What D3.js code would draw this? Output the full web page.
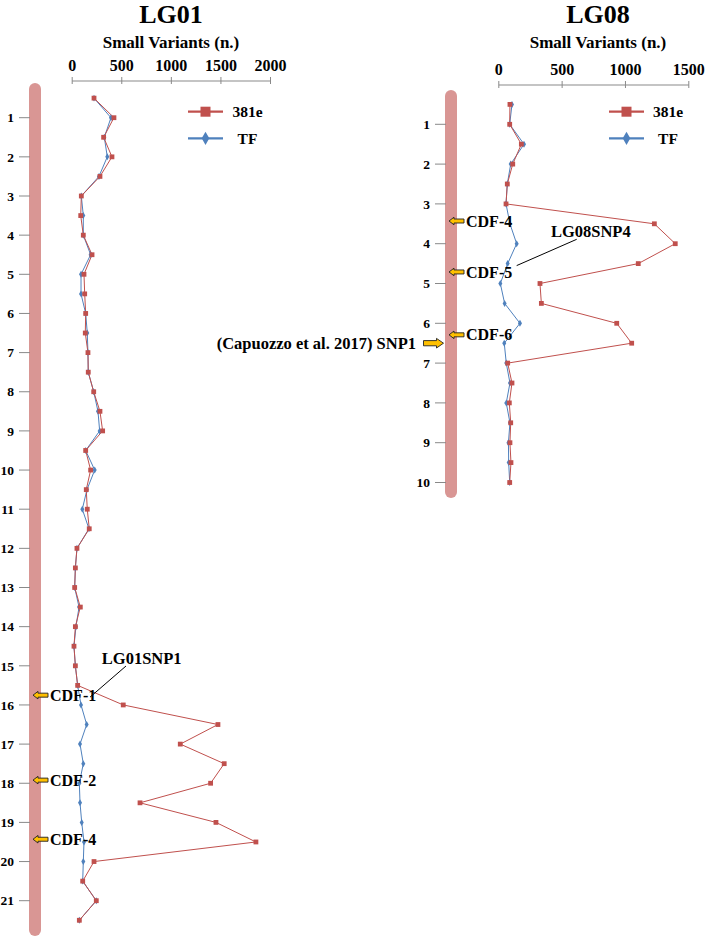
<!DOCTYPE html>
<html><head><meta charset="utf-8">
<script src="https://cdnjs.cloudflare.com/ajax/libs/d3/7.8.5/d3.min.js"></script>
<style>
html,body{margin:0;padding:0;background:#fff;}
svg text{font-family:"Liberation Serif","Times New Roman",serif;font-weight:bold;fill:#000;}
</style></head>
<body><svg id="c" width="708" height="938"></svg>
<script>
// ---- Data ----
const lg01Pos = [0.5,1,1.5,2,2.5,3,3.5,4,4.5,5,5.5,6,6.5,7,7.5,8,8.5,9,9.5,10,10.5,11,11.5,12,12.5,13,13.5,14,14.5,15,15.5,16,16.5,17,17.5,18,18.5,19,19.5,20,20.5,21,21.5];
const lg01_381e = [225,426,322,406,285,97,91,117,205,124,131,141,137,164,167,222,285,312,141,191,147,157,177,53,37,30,87,37,23,37,60,520,1475,1095,1538,1401,689,1455,1858,225,111,248,77];
const lg01_TF   = [225,396,329,359,275,97,117,117,191,94,94,141,157,164,167,222,265,282,141,232,154,107,174,53,37,30,74,43,23,37,60,94,151,84,117,77,84,101,124,117,111,248,77];
const lg01XTicks = [0,500,1000,1500,2000];
const lg01YTicks = [1,2,3,4,5,6,7,8,9,10,11,12,13,14,15,16,17,18,19,20,21];

const lg08Pos = [0.5,1,1.5,2,2.5,3,3.5,4,4.5,5,5.5,6,6.5,7,7.5,8,8.5,9,9.5,10];
const lg08_381e = [92,90,182,114,71,61,1232,1397,1105,329,340,935,1053,74,108,87,98,92,100,90];
const lg08_TF   = [108,90,203,98,71,61,92,145,74,16,50,171,47,63,92,63,92,80,82,90];
const lg08XTicks = [0,500,1000,1500];
const lg08YTicks = [1,2,3,4,5,6,7,8,9,10];

const lg01Markers = [{label:"CDF-1",pos:15.75},{label:"CDF-2",pos:17.92},{label:"CDF-4",pos:19.43}];
const lg08Markers = [{label:"CDF-4",pos:3.43},{label:"CDF-5",pos:4.71},{label:"CDF-6",pos:6.29}];

const seriesNames = ["381e","TF"];
const RED = "#C0504D", BLUE = "#4F81BD", BAR = "#D99694", AX = "#898989", ARROW = "#FFC000";

const svg = d3.select("#c");

function leftArrow(g, tipX, cy){
  const p = d3.path();
  p.moveTo(tipX, cy);
  p.lineTo(tipX+5, cy-3.8);
  p.lineTo(tipX+5, cy-2);
  p.lineTo(tipX+15, cy-2);
  p.lineTo(tipX+15, cy+2);
  p.lineTo(tipX+5, cy+2);
  p.lineTo(tipX+5, cy+3.8);
  p.closePath();
  g.append("path").attr("d", p.toString()).attr("fill", ARROW).attr("stroke","#222").attr("stroke-width",0.9);
}
function rightArrow(g, tipX, cy){
  const p = d3.path();
  p.moveTo(tipX, cy);
  p.lineTo(tipX-7, cy-4.8);
  p.lineTo(tipX-7, cy-2.6);
  p.lineTo(tipX-20, cy-2.6);
  p.lineTo(tipX-20, cy+2.6);
  p.lineTo(tipX-7, cy+2.6);
  p.lineTo(tipX-7, cy+4.8);
  p.closePath();
  g.append("path").attr("d", p.toString()).attr("fill", ARROW).attr("stroke","#222").attr("stroke-width",0.9);
}

function panel(cfg){
  const g = svg.append("g");
  const x = d3.scaleLinear().domain(cfg.xDomain).range(cfg.xRange);
  const y = d3.scaleLinear().domain(cfg.yDomain).range(cfg.yRange);

  g.append("text").attr("x", cfg.titleX).attr("y", 23).attr("text-anchor","middle")
    .style("font-size","26px").text(cfg.title);
  g.append("text").attr("x", cfg.titleX).attr("y", 48).attr("text-anchor","middle")
    .style("font-size","17px").text("Small Variants (n.)");

  // top axis
  const ax = d3.axisTop(x).tickValues(cfg.xTicks).tickFormat(d3.format("d")).tickSizeInner(4).tickSizeOuter(0).tickPadding(5);
  const axg = g.append("g").attr("transform",`translate(0,${cfg.axisY})`).call(ax);
  axg.select(".domain").attr("stroke",AX);
  axg.selectAll(".tick line").attr("stroke",AX).attr("y2",-3.5).attr("y1",3.5);
  axg.selectAll(".tick text").style("font-family",'"Liberation Serif","Times New Roman",serif')
     .style("font-weight","bold").style("font-size","16px").attr("fill","#000").attr("dy","-0.05em");

  // chromosome bar
  g.append("rect").attr("x", cfg.barX-6).attr("y", cfg.barTop).attr("width",12)
    .attr("height", cfg.barBottom-cfg.barTop).attr("rx",6).attr("ry",6).attr("fill",BAR);

  // y ticks
  const yt = g.append("g");
  cfg.yTicks.forEach(v=>{
    yt.append("line").attr("x1",cfg.barX-16).attr("x2",cfg.barX-5).attr("y1",y(v)).attr("y2",y(v)).attr("stroke",AX).attr("stroke-width",1);
    yt.append("text").attr("x",cfg.barX-21).attr("y",y(v)).attr("dy","0.35em").attr("text-anchor","end")
      .style("font-size","13.5px").text(v);
  });

  // lines
  const mk = (vals)=> cfg.pos.map((p,i)=>({p, v:vals[i]}));
  const line = d3.line().x(d=>x(d.v)).y(d=>y(d.p));
  const tf = mk(cfg.tf), r = mk(cfg.red);
  g.append("path").attr("d", line(tf)).attr("fill","none").attr("stroke",BLUE).attr("stroke-width",1);
  g.append("path").attr("d", line(r)).attr("fill","none").attr("stroke",RED).attr("stroke-width",1);
  const sym = d3.symbol().type(d3.symbolDiamond).size(14);
  g.selectAll(".tf").data(tf).enter().append("path")
    .attr("transform",d=>`translate(${x(d.v)},${y(d.p)})`).attr("d",sym()).attr("fill",BLUE);
  g.selectAll(".rs").data(r).enter().append("rect")
    .attr("x",d=>x(d.v)-2.4).attr("y",d=>y(d.p)-2.4).attr("width",4.8).attr("height",4.8).attr("fill",RED);

  // legend
  const lg = g.append("g");
  const lx = cfg.legendX;
  [[RED,"sq"],[BLUE,"dia"]].forEach((s,i)=>{
    const ly = cfg.legendY + i*26.6;
    lg.append("line").attr("x1",lx).attr("x2",lx+35).attr("y1",ly).attr("y2",ly).attr("stroke",s[0]).attr("stroke-width",2.2);
    if(s[1]==="sq") lg.append("rect").attr("x",lx+17.5-5).attr("y",ly-5).attr("width",10).attr("height",10).attr("fill",s[0]);
    else lg.append("path").attr("transform",`translate(${lx+17.5},${ly})`).attr("d",d3.symbol().type(d3.symbolDiamond).size(50)()).attr("fill",s[0]);
    lg.append("text").attr("x",cfg.legendTextX).attr("y",ly).attr("dy","0.35em").attr("text-anchor","middle")
      .style("font-size","15.5px").text(seriesNames[i]);
  });

  // CDF markers
  cfg.markers.forEach(m=>{
    leftArrow(g, cfg.barX-2, y(m.pos));
    g.append("text").attr("x", cfg.barX+15).attr("y", y(m.pos)).attr("dy","0.35em").style("font-size","16px").text(m.label);
  });
  return {g,x,y};
}

const p1 = panel({title:"LG01", titleX:171, xDomain:[0,2000], xRange:[71.7,270], yDomain:[1,21], yRange:[117.7,900.7],
  axisY:80.5, xTicks:lg01XTicks, yTicks:lg01YTicks, barX:35, barTop:83, barBottom:936,
  pos:lg01Pos, red:lg01_381e, tf:lg01_TF, legendX:188, legendY:111.7, legendTextX:247.5, markers:lg01Markers});

const p2 = panel({title:"LG08", titleX:598, xDomain:[0,1500], xRange:[498.3,688.3], yDomain:[1,10], yRange:[124.3,482.5],
  axisY:84.5, xTicks:lg08XTicks, yTicks:lg08YTicks, barX:451, barTop:90, barBottom:498,
  pos:lg08Pos, red:lg08_381e, tf:lg08_TF, legendX:609, legendY:111.7, legendTextX:668, markers:lg08Markers});

// SNP annotations
p1.g.append("line").attr("x1",126).attr("y1",666).attr("x2",p1.x(185)).attr("y2",p1.y(15.8)).attr("stroke","#000").attr("stroke-width",1);
p1.g.append("text").attr("x",141.7).attr("y",664).attr("text-anchor","middle").style("font-size","16.5px").text("LG01SNP1");

p2.g.append("line").attr("x1",576.7).attr("y1",239.3).attr("x2",p2.x(145)).attr("y2",p2.y(4.55)).attr("stroke","#000").attr("stroke-width",1);
p2.g.append("text").attr("x",590.8).attr("y",237).attr("text-anchor","middle").style("font-size","16.5px").text("LG08SNP4");

rightArrow(p2.g, 443.5, p2.y(6.5));
p2.g.append("text").attr("x",416).attr("y",p2.y(6.5)).attr("dy","0.35em").attr("text-anchor","end").style("font-size","16.5px").text("(Capuozzo et al. 2017) SNP1");
</script></body></html>
